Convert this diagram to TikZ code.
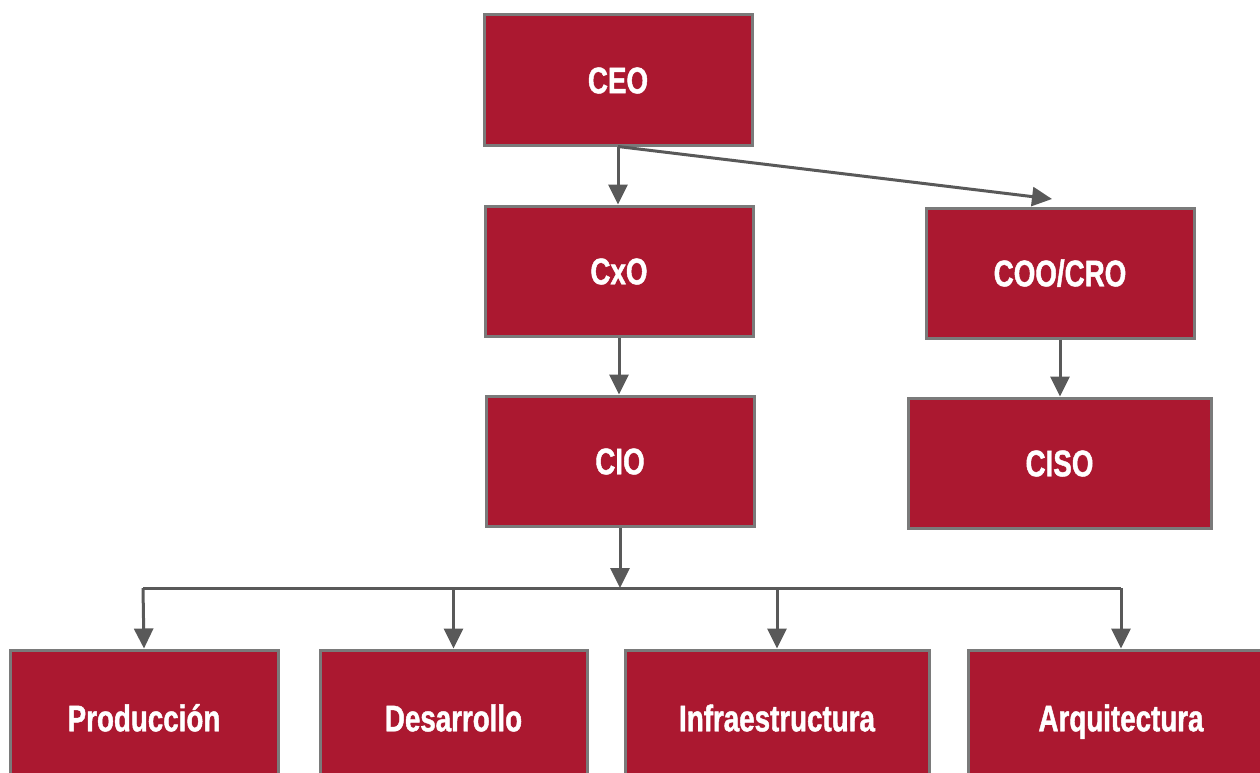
\documentclass[tikz,border=0pt]{standalone}
\usepackage{fontspec}
\setmainfont{Liberation Sans}[FakeStretch=0.74]
\newfontfamily\boxfont{Liberation Sans Bold}[FakeStretch=0.75,FakeBold=1.2]
\usetikzlibrary{arrows.meta,calc}
\definecolor{boxred}{HTML}{AB1830}
\definecolor{boxline}{HTML}{7A7A7A}
\definecolor{arrowgray}{HTML}{595959}
\tikzset{
  orgbox/.style={rectangle, draw=boxline, line width=3pt, fill=boxred, text=white,
    inner sep=0pt, minimum height=130pt, text height=26.5pt, text depth=0pt,
    font=\fontsize{37}{42}\selectfont\boxfont},
  link/.style={draw=arrowgray, line width=3pt, -{Triangle[width=19pt,length=20pt]}},
  busline/.style={draw=arrowgray, line width=3pt}
}
\begin{document}
\begin{tikzpicture}[x=1pt,y=-1pt]
\useasboundingbox (0,0) rectangle (1260,773);
\clip (0,0) rectangle (1260,773);
\node[orgbox, minimum width=268pt] (CEO) at (618,80) {CEO};
\node[orgbox, minimum width=268pt] (CxO) at (619,271) {CxO};
\node[orgbox, minimum width=268pt] (CIO) at (620,461) {CIO};
\node[orgbox, minimum width=268pt] (COO) at (1060,273) {COO/CRO};
\node[orgbox, minimum width=303pt] (CISO) at (1059.5,463) {CISO};
\node[orgbox, minimum width=268pt, minimum height=136pt] (Prod) at (144,718) {Producción};
\node[orgbox, minimum width=267pt, minimum height=136pt] (Des) at (453.5,718) {Desarrollo};
\node[orgbox, minimum width=304pt, minimum height=136pt] (Inf) at (777,718) {Infraestructura};
\node[orgbox, minimum width=306pt, minimum height=136pt] (Arq) at (1121,718) {Arquitectura};
\coordinate (cooin) at (1052,199);
\coordinate (busL) at (143,588);
\coordinate (busR) at (1121,588);
\draw[link] (CEO.south) -- (CEO.south |- CxO.north);
\draw[link] (CEO.south) -- (cooin);
\draw[link] (CxO.south) -- (CxO.south |- CIO.north);
\draw[link] (COO.south) -- (COO.south |- CISO.north);
\draw[link] (CIO.south) -- (CIO.south |- busL);
\draw[busline] (busL) -- (busR);
\draw[link] (busL) -- (Prod.north);
\draw[link] ($(Des.north |- busL)+(0,2)$) -- (Des.north);
\draw[link] ($(Inf.north |- busL)+(0,2)$) -- (Inf.north);
\draw[link] (busR) -- (Arq.north);
\end{tikzpicture}
\end{document}
